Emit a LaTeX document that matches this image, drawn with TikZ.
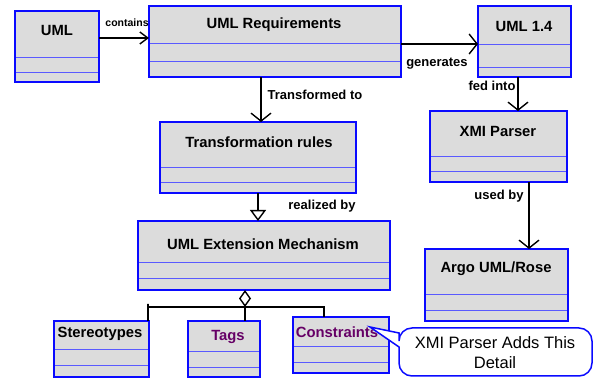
\documentclass[tikz,border=0pt]{standalone}
\usepackage{fontspec}
\setmainfont{Liberation Sans}
\usetikzlibrary{fit,arrows.meta}
\definecolor{boxblue}{HTML}{0A0AFF}
\definecolor{compblue}{HTML}{5A5AFF}
\definecolor{boxgray}{HTML}{DCDCDC}
\definecolor{tagpurple}{HTML}{660066}
\tikzset{
  boxframe/.style={draw=boxblue,line width=1.9pt,fill=boxgray,inner sep=0pt,outer sep=0pt},
  compline/.style={draw=compblue,line width=0.8pt},
  titletext/.style={font=\bfseries\fontsize{14.8}{16}\selectfont,inner sep=0pt},
  linklabel/.style={font=\bfseries\fontsize{13}{14}\selectfont,inner sep=0pt},
  smalllabel/.style={font=\bfseries\fontsize{10.5}{12}\selectfont,inner sep=0pt},
  conn/.style={draw=black,line width=1.4pt},
  assoc/.style={conn,-{Straight Barb[length=8pt,width=20pt,line width=1.4pt]}},
  smallassoc/.style={conn,-{Straight Barb[length=8pt,width=12pt,line width=1.4pt]}},
  realize/.style={conn,-{Triangle[open,length=11pt,width=16pt,line width=1.4pt]}},
  aggreg/.style={conn,{Diamond[open,length=17pt,width=12pt,line width=1.4pt]}-},
  calloutshape/.style={draw=boxblue,line width=1.5pt,fill=white},
  notetext/.style={font=\fontsize{16.5}{20}\selectfont,align=center,inner sep=0pt}
}
\newcommand\umlbox[7]{%
  \node[boxframe,fit={(#2,#3) (#4,#5)}] (#1) {};
  \draw[compline] ([xshift=0.9pt]#1.west |- 0,#6) -- ([xshift=-0.9pt]#1.east |- 0,#6);
  \draw[compline] ([xshift=0.9pt]#1.west |- 0,#7) -- ([xshift=-0.9pt]#1.east |- 0,#7);
}
\begin{document}
\begin{tikzpicture}[x=1pt,y=-1pt]
\useasboundingbox (0,0) rectangle (595,379);
% boxes
\umlbox{uml}{15}{11}{99}{82}{57}{72}
\node[titletext] (umlt) at (57,30) {UML};
\umlbox{req}{149}{6}{401}{77}{43}{61}
\node[titletext] (reqt) at (274,25) {UML Requirements};
\umlbox{uml14}{478}{6}{571}{77}{44}{67}
\node[titletext] (uml14t) at (524,26) {UML 1.4};
\umlbox{xmi}{430}{111}{567}{182}{156}{171}
\node[titletext] (xmit) at (498,131) {XMI Parser};
\umlbox{argo}{425}{249}{568}{321}{294}{310}
\node[titletext] (argot) at (496,269) {Argo UML/Rose};
\umlbox{tr}{160}{122}{356}{193}{167}{182}
\node[titletext] (trt) at (259,142) {Transformation rules};
\umlbox{ext}{138}{221}{390}{290}{262}{278}
\node[titletext] (extt) at (263,244) {UML Extension Mechanism};
\umlbox{ster}{54}{321}{149}{377}{349}{365}
\node[titletext] (stert) at (100,334) {Stereotypes};
\umlbox{tags}{188}{321}{260}{377}{351}{367}
\node[titletext,text=tagpurple] (tagst) at (228,337) {Tags};
\umlbox{cons}{293}{317}{389}{373}{346}{362}
\node[titletext,text=tagpurple] (const) at (337,332) {Constraints};
% connectors
\draw[smallassoc] (uml.east |- 0,38) -- (req.west |- 0,38);
\node[smalllabel] (lcontains) at (127,23) {contains};
\draw[assoc] (req.east |- 0,44) -- (uml14.west |- 0,44);
\node[linklabel] (lgen) at (437,64) {generates};
\draw[assoc] (uml14.south -| 518,0) -- (xmi.north -| 518,0);
\node[linklabel] (lfed) at (492,86) {fed into};
\draw[assoc] (xmi.south -| 529,0) -- (argo.north -| 529,0);
\node[linklabel] (lused) at (499,196) {used by};
\draw[assoc] (req.south -| 261,0) -- (tr.north -| 261,0);
\node[linklabel] (ltrans) at (315,95) {Transformed to};
\draw[realize] (tr.south -| 258,0) -- (ext.north -| 258,0);
\node[linklabel] (lreal) at (322,206) {realized by};
% aggregation
\coordinate (aggj) at (245,307);
\draw[aggreg] (ext.south -| aggj) -- (aggj);
\draw[conn] (ster.north -| 148,0) -- (148,304) -- (148,307) -| (cons.north -| 324,0);
\draw[conn] (aggj) -- (tags.north -| aggj);
% callout
\coordinate (tip) at (370,327);
\draw[calloutshape] (tip) -- (399,347) [rounded corners=13pt] -- (399,376) -- (592,376) -- (592,328) -- (399,328) [sharp corners] -- (399,333) -- cycle;
\node[notetext] (note) at (495,353) {XMI Parser Adds This\\Detail};
\end{tikzpicture}
\end{document}
